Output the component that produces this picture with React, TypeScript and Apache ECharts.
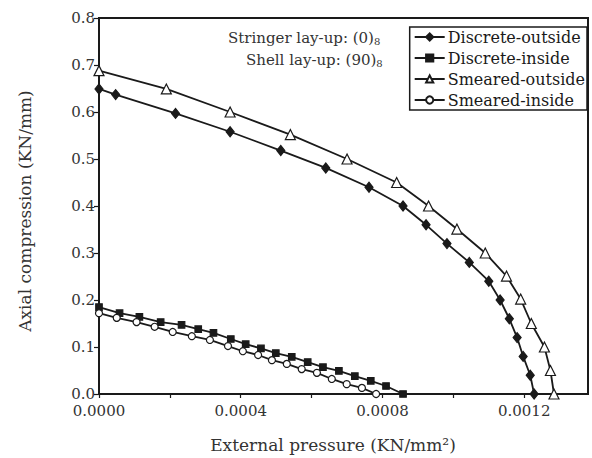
import React, { useEffect, useRef } from "react";
import * as echarts from "echarts";

const discreteOutside: [number, number][] = [
  [0, 0.649], [0.000047, 0.637], [0.000216, 0.597], [0.00037, 0.558], [0.000513, 0.518],
  [0.00064, 0.481], [0.000762, 0.44], [0.000858, 0.4], [0.000923, 0.36], [0.000982, 0.32],
  [0.001045, 0.28], [0.0011, 0.24], [0.001132, 0.2], [0.001158, 0.16], [0.00118, 0.12],
  [0.001197, 0.08], [0.001217, 0.04], [0.001228, 0],
];
const discreteInside: [number, number][] = [
  [0, 0.185], [0.000058, 0.172], [0.000114, 0.164], [0.000174, 0.153], [0.000233, 0.147],
  [0.00028, 0.138], [0.000323, 0.13], [0.000372, 0.117], [0.000414, 0.106], [0.000457, 0.097],
  [0.000499, 0.087], [0.000544, 0.079], [0.000589, 0.068], [0.000632, 0.057], [0.000677, 0.049],
  [0.000722, 0.038], [0.000767, 0.028], [0.00081, 0.017], [0.000858, 0],
];
const smearedOutside: [number, number][] = [
  [0, 0.688], [0.00019, 0.649], [0.00037, 0.6], [0.00054, 0.552], [0.0007, 0.5],
  [0.00084, 0.45], [0.00093, 0.4], [0.00101, 0.351], [0.00109, 0.3], [0.00115, 0.251],
  [0.00119, 0.202], [0.00122, 0.15], [0.001257, 0.1], [0.001274, 0.05], [0.001284, 0],
];
const smearedInside: [number, number][] = [
  [0, 0.172], [0.00005, 0.162], [0.000106, 0.153], [0.000157, 0.143], [0.000208, 0.132],
  [0.000262, 0.123], [0.000313, 0.115], [0.000364, 0.102], [0.000406, 0.091], [0.000449, 0.083],
  [0.000488, 0.072], [0.00053, 0.064], [0.000572, 0.053], [0.000615, 0.045], [0.000657, 0.032],
  [0.000699, 0.021], [0.000742, 0.013], [0.000782, 0],
];

const seriesNames = ["Discrete-outside", "Discrete-inside", "Smeared-outside", "Smeared-inside"];
const xTitle = "External pressure (KN/mm²)";
const yTitle = "Axial compression (KN/mm)";

const FONT = "DejaVu Serif";
const INK = "#1a1a1a";

export default function App() {
  const ref = useRef<HTMLDivElement>(null);
  useEffect(() => {
    if (!ref.current) return;
    const chart = echarts.init(ref.current, undefined, { renderer: "svg" });
    const mk = (name: string, data: [number, number][], symbol: string, size: any, filled: boolean) => ({
      name,
      type: "line",
      data,
      symbol,
      symbolSize: size,
      showSymbol: true,
      lineStyle: { color: INK, width: 1.8 },
      itemStyle: { color: filled ? INK : "#ffffff", borderColor: INK, borderWidth: 1.2 },
      z: 3,
    });
    chart.setOption({
      animation: false,
      backgroundColor: "#ffffff",
      grid: {
        left: 99, right: 4, top: 18, bottom: 64,
        show: true, borderColor: INK, borderWidth: 2, backgroundColor: "transparent",
      },
      xAxis: {
        type: "value",
        min: 0,
        max: 0.00138,
        interval: 0.0002,
        splitLine: { show: false },
        axisLine: { lineStyle: { color: INK, width: 2 } },
        axisTick: { show: true, length: 4, lineStyle: { color: INK, width: 1.2 } },
        axisLabel: {
          margin: 10,
          color: "#333",
          fontFamily: FONT,
          fontSize: 15,
          lineHeight: 14,
          showMaxLabel: false,
          formatter: (v: number) => (Math.round(v / 0.0002) % 2 === 0 ? v.toFixed(4) : ""),
        },
      },
      yAxis: {
        type: "value",
        min: 0,
        max: 0.8,
        interval: 0.1,
        splitLine: { show: false },
        axisLine: { show: true, lineStyle: { color: INK, width: 2 } },
        axisTick: { show: true, length: 5, lineStyle: { color: INK, width: 1.2 } },
        axisLabel: {
          margin: 4,
          color: "#333",
          fontFamily: FONT,
          fontSize: 15,
          lineHeight: 13,
          formatter: (v: number) => v.toFixed(1),
        },
      },
      legend: {
        data: seriesNames,
        orient: "vertical",
        right: 5,
        top: 27,
        itemWidth: 30,
        itemHeight: 9,
        itemGap: 3,
        padding: [1, 2, 1, 4],
        borderColor: INK,
        borderWidth: 1.5,
        backgroundColor: "#ffffff",
        textStyle: { fontFamily: FONT, fontSize: 16, color: INK, lineHeight: 18, padding: [0, 0, 0, -2] },
      },
      graphic: [
        {
          type: "text",
          left: 318 - 90,
          top: 30,
          style: {
            text: "Stringer lay-up: (0){s|8}",
            font: `15px "${FONT}"`,
            fill: "#333",
            rich: { s: { fontSize: 10, fontFamily: FONT, fill: "#333", verticalAlign: "bottom", padding: [8, 0, 0, 0] } },
          },
        },
        {
          type: "text",
          left: 318 - 72,
          top: 52,
          style: {
            text: "Shell lay-up: (90){s|8}",
            font: `15px "${FONT}"`,
            fill: "#333",
            rich: { s: { fontSize: 10, fontFamily: FONT, fill: "#333", verticalAlign: "bottom", padding: [8, 0, 0, 0] } },
          },
        },
        {
          type: "text",
          x: 333,
          y: 445,
          style: {
            text: xTitle,
            font: `17px "${FONT}"`,
            fill: "#333",
            align: "center",
            verticalAlign: "middle",
          },
        },
        {
          type: "text",
          x: 25,
          y: 211,
          rotation: Math.PI / 2,
          style: {
            text: yTitle,
            font: `17px "${FONT}"`,
            fill: "#333",
            align: "center",
            verticalAlign: "middle",
          },
        },
      ],
      series: [
        mk(seriesNames[0], discreteOutside, "diamond", [8, 10], true),
        mk(seriesNames[1], discreteInside, "rect", 6.5, true),
        mk(seriesNames[2], smearedOutside, "triangle", 10, false),
        mk(seriesNames[3], smearedInside, "circle", 7, false),
      ],
    });
    return () => chart.dispose();
  }, []);
  return <div ref={ref} style={{ position: "fixed", left: 0, top: 0, width: 592, height: 458 }} />;
}
